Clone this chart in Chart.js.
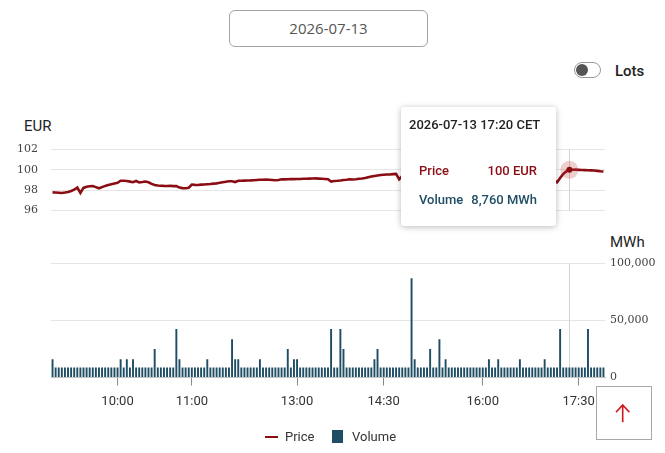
<!DOCTYPE html>
<html><head><meta charset="utf-8">
<script src="https://cdn.jsdelivr.net/npm/chart.js@4/dist/chart.umd.min.js"></script>
<style>
html,body{margin:0;padding:0;background:#fff;}
body{width:665px;height:453px;overflow:hidden;position:relative;font-family:Roboto,"Open Sans",sans-serif;}
.abs{position:absolute;white-space:nowrap;}
#dateBox{left:229px;top:10px;width:199px;height:37px;border:1px solid #a3a3a3;border-radius:6px;box-sizing:border-box;text-align:center;line-height:35px;font-family:"Open Sans",sans-serif;font-size:15px;color:#555;}
#toggle{left:574px;top:62px;width:27px;height:16px;border:1px solid #9a9a9a;border-radius:8px;box-sizing:border-box;}
#knob{left:1px;top:1px;width:12px;height:12px;border-radius:50%;background:#555;}
#lots{left:615px;top:61px;line-height:20px;font-size:15px;font-weight:500;color:#222;}
#eur{left:24px;top:117px;line-height:18px;font-size:15px;color:#222;}
#mwh{left:610px;top:233px;line-height:18px;font-size:15px;color:#222;}
#cPrice{left:0;top:130px;}
#cVol{left:0;top:245px;}
#tip{left:401px;top:107px;width:155px;height:119px;background:#fff;border-radius:3px;box-shadow:0 1px 6px rgba(0,0,0,0.28);font-size:13px;font-weight:500;}
#tipTitle{left:8px;top:10px;line-height:16px;color:#222;}
.tl{left:18px;line-height:16px;}
.tv{right:19px;line-height:16px;}
#legend .abs{font-size:13px;color:#333;line-height:16px;}
#upBtn{left:596px;top:386px;width:56px;height:54px;border:1px solid #a8a8a8;box-sizing:border-box;background:#fff;}
</style></head>
<body>
<div id="dateBox" class="abs"></div>
<div id="toggle" class="abs"><div id="knob" class="abs"></div></div>
<div id="lots" class="abs">Lots</div>
<div id="eur" class="abs">EUR</div>
<div id="mwh" class="abs">MWh</div>
<canvas id="cPrice" class="abs" width="665" height="100"></canvas>
<canvas id="cVol" class="abs" width="665" height="185"></canvas>
<div id="tip" class="abs">
  <div id="tipTitle" class="abs"></div>
  <div id="tpL" class="abs tl" style="top:56px;"></div>
  <div id="tpV" class="abs tv" style="top:56px;"></div>
  <div id="tvL" class="abs tl" style="top:85px;"></div>
  <div id="tvV" class="abs tv" style="top:85px;"></div>
</div>
<div id="legend">
  <div class="abs" style="left:265px;top:436px;width:13px;height:2px;background:#8b0d14;"></div>
  <div class="abs" id="lgP" style="left:285px;top:429px;"></div>
  <div class="abs" style="left:332px;top:430px;width:11px;height:13px;background:#1f4d63;"></div>
  <div class="abs" id="lgV" style="left:352px;top:429px;"></div>
</div>
<div id="upBtn" class="abs">
  <svg width="56" height="54" style="position:absolute;left:-1px;top:-1px;">
    <path d="M26.7 19 L26.7 36.3 M20 26.3 L26.7 19 L33.4 26.3" stroke="#d0181c" stroke-width="1.6" fill="none"/>
  </svg>
</div>
<script>
// ---- data ----
const selectedDate = '2026-07-13';
const seriesNames = ['Price', 'Volume'];
const priceUnit = 'EUR';
const volumeUnit = 'MWh';
const tickLabels = ['10:00', '11:00', '13:00', '14:30', '16:00', '17:30'];
const tickIndex = [21, 45, 79, 107, 139, 170];
const priceTicks = [96, 98, 100, 102];
const volumeTicks = [0, 50000, 100000];
const hoverIndex = 167;
const hoverTitle = '2026-07-13 17:20 CET';

const price = [
  97.78, 97.76, 97.74, 97.72, 97.76, 97.82, 97.92, 98.05, 98.25, 97.72,
  98.22, 98.33, 98.38, 98.41, 98.30, 98.18, 98.30, 98.42, 98.50, 98.58,
  98.66, 98.72, 98.93, 98.92, 98.90, 98.84, 98.78, 98.90, 98.76, 98.80,
  98.85, 98.78, 98.62, 98.50, 98.46, 98.44, 98.42, 98.41, 98.43, 98.40,
  98.41, 98.25, 98.20, 98.18, 98.24, 98.55, 98.52, 98.50, 98.54, 98.56,
  98.58, 98.60, 98.64, 98.67, 98.72, 98.78, 98.83, 98.87, 98.88, 98.80,
  98.93, 98.92, 98.94, 98.95, 98.96, 98.98, 99.00, 99.02, 99.03, 99.04,
  99.02, 99.00, 98.98, 99.00, 99.07, 99.06, 99.08, 99.10, 99.09, 99.10,
  99.10, 99.12, 99.13, 99.14, 99.15, 99.16, 99.14, 99.12, 99.10, 99.07,
  98.85, 98.90, 98.92, 98.95, 99.00, 99.02, 99.07, 99.05, 99.08, 99.12,
  99.15, 99.20, 99.28, 99.35, 99.40, 99.45, 99.50, 99.52, 99.54, 99.55,
  99.58, 99.60, 99.07, 99.40, 99.45, 99.50, 99.48, 99.52, 99.55, 99.50,
  99.53, 99.56, 99.60, 99.58, 99.55, 99.60, 99.62, 99.60, 99.58, 99.60,
  99.63, 99.65, 99.60, 99.62, 99.64, 99.66, 99.62, 99.60, 99.58, 99.60,
  99.55, 99.50, 99.48, 99.50, 99.45, 99.40, 99.38, 99.35, 99.30, 99.32,
  99.28, 99.25, 99.20, 99.18, 99.15, 99.12, 99.10, 99.08, 99.05, 99.02,
  99.00, 98.98, 98.93, 98.78, 99.20, 99.60, 99.85, 100.00, 100.01, 100.02,
  100.00, 99.98, 99.97, 99.96, 99.95, 99.93, 99.90, 99.86, 99.84
];

const volume = [
  16000, 8760, 8760, 8760, 8760, 8760, 8760, 8760, 8760, 8760,
  8760, 8760, 8760, 8760, 8760, 8760, 8760, 8760, 8760, 8760,
  8760, 8760, 16000, 8760, 16000, 8760, 16000, 8760, 8760, 8760,
  8760, 8760, 8760, 25000, 8760, 8760, 8760, 8760, 8760, 8760,
  42500, 16000, 8760, 8760, 8760, 8760, 8760, 8760, 8760, 8760,
  16000, 8760, 8760, 8760, 8760, 8760, 8760, 8760, 33500, 16000,
  16000, 8760, 8760, 8760, 8760, 8760, 8760, 16000, 8760, 8760,
  8760, 8760, 8760, 8760, 8760, 8760, 25000, 8760, 16000, 16000,
  8760, 8760, 8760, 8760, 8760, 8760, 8760, 8760, 8760, 8760,
  42500, 8760, 8760, 42500, 25000, 8760, 8760, 8760, 8760, 8760,
  8760, 8760, 8760, 8760, 16000, 25000, 8760, 8760, 8760, 8760,
  8760, 8760, 8760, 8760, 8760, 8760, 87000, 16000, 8760, 8760,
  8760, 8760, 25000, 8760, 8760, 33500, 8760, 16000, 8760, 8760,
  8760, 8760, 8760, 8760, 8760, 8760, 8760, 8760, 8760, 8760,
  8760, 16000, 8760, 8760, 16000, 8760, 8760, 8760, 8760, 8760,
  8760, 16000, 8760, 8760, 8760, 8760, 8760, 8760, 8760, 16000,
  8760, 8760, 8760, 8760, 42500, 8760, 8760, 8760, 8760, 8760,
  8760, 8760, 8760, 42500, 8760, 8760, 8760, 8760, 8760
];

// ---- styles ----
const PRICE_COLOR = '#8b0d14';
const VOL_COLOR = '#1f4d63';
const GRID = '#e6e6e6';
const categories = volume.map((_, i) => i);

document.getElementById('dateBox').textContent = selectedDate;
document.getElementById('tipTitle').textContent = hoverTitle;
document.getElementById('tpL').textContent = seriesNames[0];
document.getElementById('tvL').textContent = seriesNames[1];
document.getElementById('tpV').textContent = Math.round(price[hoverIndex]) + ' ' + priceUnit;
document.getElementById('tvV').textContent = volume[hoverIndex].toLocaleString('en-US') + ' ' + volumeUnit;
document.getElementById('tpL').style.color = PRICE_COLOR;
document.getElementById('tpV').style.color = PRICE_COLOR;
document.getElementById('tvL').style.color = VOL_COLOR;
document.getElementById('tvV').style.color = VOL_COLOR;
document.getElementById('lgP').textContent = seriesNames[0];
document.getElementById('lgV').textContent = seriesNames[1];

const crosshair = {
  id: 'crosshair',
  beforeDatasetsDraw(chart) {
    const x = Math.round(chart.scales.x.getPixelForValue(hoverIndex)) + 0.5;
    const { top, bottom } = chart.chartArea;
    const ctx = chart.ctx;
    ctx.save();
    ctx.strokeStyle = '#d2d2d2';
    ctx.lineWidth = 1;
    ctx.beginPath(); ctx.moveTo(x, top); ctx.lineTo(x, bottom); ctx.stroke();
    ctx.restore();
  }
};
const halo = {
  id: 'halo',
  afterDatasetsDraw(chart) {
    const pt = chart.getDatasetMeta(0).data[hoverIndex];
    const ctx = chart.ctx;
    ctx.save();
    ctx.fillStyle = 'rgba(190,60,60,0.25)';
    ctx.beginPath(); ctx.arc(pt.x, pt.y, 9, 0, Math.PI * 2); ctx.fill();
    ctx.fillStyle = PRICE_COLOR;
    ctx.beginPath(); ctx.arc(pt.x, pt.y, 3, 0, Math.PI * 2); ctx.fill();
    ctx.restore();
  }
};

Chart.defaults.font.family = 'Roboto, sans-serif';

new Chart(document.getElementById('cPrice'), {
  type: 'line',
  data: {
    labels: categories,
    datasets: [{ label: seriesNames[0], data: price, borderColor: PRICE_COLOR, borderWidth: 2.6, pointRadius: 0, tension: 0 }]
  },
  options: {
    responsive: false, animation: false,
    layout: { padding: { top: 17.7, bottom: 12.7, right: 60, left: 0 } },
    plugins: { legend: { display: false }, tooltip: { enabled: false } },
    scales: {
      x: { type: 'category', offset: true, display: false },
      y: {
        min: priceTicks[0], max: priceTicks[priceTicks.length - 1],
        afterBuildTicks(s) { s.ticks = priceTicks.map(v => ({ value: v })); },
        afterFit(s) { s.width = 51; },
        grid: { color: GRID, drawTicks: false },
        border: { display: false },
        ticks: { padding: 13, color: '#444', font: { family: 'DejaVu Serif', size: 11 } }
      }
    }
  },
  plugins: [crosshair, halo]
});

new Chart(document.getElementById('cVol'), {
  type: 'bar',
  data: {
    labels: categories,
    datasets: [{ label: seriesNames[1], data: volume, backgroundColor: VOL_COLOR, barPercentage: 0.62, categoryPercentage: 1 }]
  },
  options: {
    responsive: false, animation: false,
    layout: { padding: { top: 18.3, left: 51, right: 0, bottom: 0 } },
    plugins: { legend: { display: false }, tooltip: { enabled: false } },
    scales: {
      x: {
        grid: {
          offset: false, drawOnChartArea: false, tickLength: 8,
          color: c => tickIndex.includes(c.index) ? '#8a8a8a' : 'rgba(0,0,0,0)'
        },
        border: { display: true, color: '#c4c4c4' },
        ticks: {
          autoSkip: false, maxRotation: 0, minRotation: 0, padding: 8, color: '#333',
          font: { family: 'Roboto', size: 13 },
          callback: (v, i) => { const k = tickIndex.indexOf(i); return k < 0 ? '' : tickLabels[k]; }
        },
        afterFit(s) { s.height = 52.5; }
      },
      y: {
        position: 'right',
        min: volumeTicks[0], max: volumeTicks[volumeTicks.length - 1],
        afterBuildTicks(s) { s.ticks = volumeTicks.map(v => ({ value: v })); },
        afterFit(s) { s.width = 60; },
        grid: { color: GRID, drawTicks: false },
        border: { display: false },
        ticks: { padding: 5, color: '#444', font: { family: 'DejaVu Serif', size: 11 }, callback: v => v.toLocaleString('en-US') }
      }
    }
  },
  plugins: [crosshair]
});
</script>
</body></html>
